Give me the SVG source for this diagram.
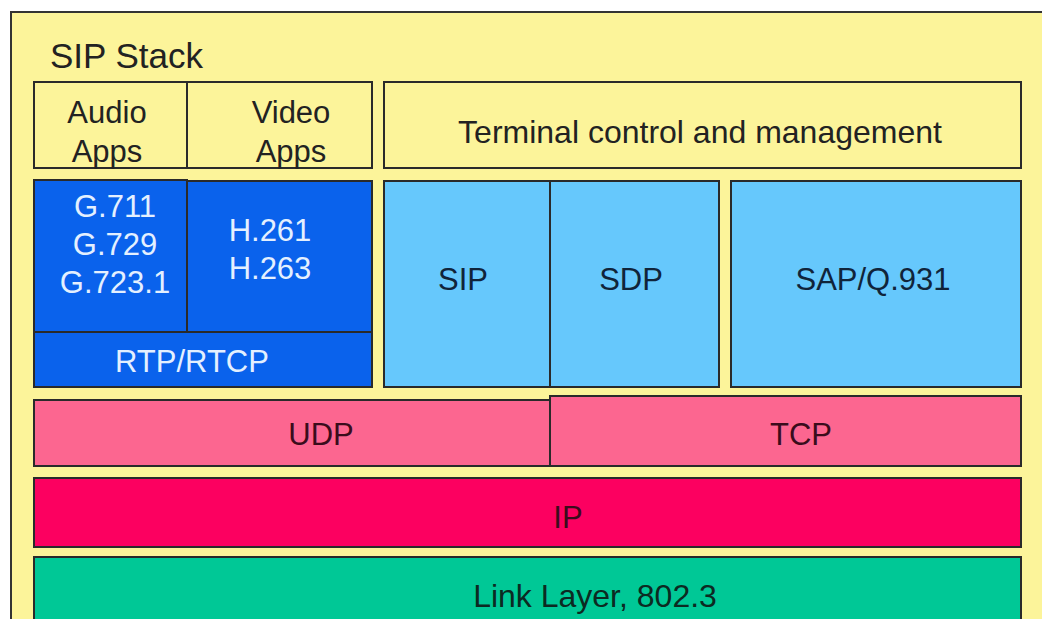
<svg xmlns="http://www.w3.org/2000/svg" width="1042" height="619" viewBox="0 0 1042 619">
<style>
.box{stroke:#2a2a2a;stroke-width:2}
.y{fill:#fcf49a}
.db{fill:#0a62ec}
.lb{fill:#66c8fc}
.pk{fill:#fc6690}
.ip{fill:#fc0060}
.gr{fill:#00c896}
text{font-family:"Liberation Sans",Arial,sans-serif;font-size:31px;text-anchor:middle}
.dk{fill:#222}
.wt{fill:#e4f0ff}
.nv{fill:#10243a}
.rd{fill:#3a0c1c}
.gk{fill:#0c2a22}
</style>
<rect x="0" y="0" width="1042" height="619" fill="#ffffff"/>
<g id="frame">
<rect x="11" y="12" width="1045" height="620" class="y" stroke="#333" stroke-width="2"/>
<text x="50" y="68" class="dk" style="text-anchor:start;font-size:35px">SIP Stack</text>
</g>
<g id="audio-apps">
<rect x="34" y="82" width="153" height="86" class="box y"/>
<text x="107" y="123" class="dk">Audio</text>
<text x="107" y="162" class="dk">Apps</text>
</g>
<g id="video-apps">
<rect x="187" y="82" width="185" height="86" class="box y"/>
<text x="291" y="123" class="dk">Video</text>
<text x="291" y="162" class="dk">Apps</text>
</g>
<g id="terminal">
<rect x="384" y="82" width="637" height="86" class="box y"/>
<text x="700" y="143" class="dk" style="font-size:32px">Terminal control and management</text>
</g>
<g id="audio-codecs">
<rect x="34" y="180" width="153" height="152" class="box db"/>
<text x="115" y="217" class="wt">G.711</text>
<text x="115" y="255" class="wt">G.729</text>
<text x="115" y="293" class="wt">G.723.1</text>
</g>
<g id="video-codecs">
<rect x="187" y="181" width="185" height="151" class="box db"/>
<text x="270" y="241" class="wt">H.261</text>
<text x="270" y="279" class="wt">H.263</text>
</g>
<g id="rtp">
<rect x="34" y="332" width="338" height="55" class="box db"/>
<text x="192" y="372" class="wt">RTP/RTCP</text>
</g>
<g id="sip">
<rect x="384" y="181" width="166" height="206" class="box lb"/>
<text x="463" y="290" class="nv">SIP</text>
</g>
<g id="sdp">
<rect x="550" y="181" width="169" height="206" class="box lb"/>
<text x="631" y="290" class="nv">SDP</text>
</g>
<g id="sap">
<rect x="731" y="181" width="290" height="206" class="box lb"/>
<text x="873" y="290" class="nv">SAP/Q.931</text>
</g>
<g id="udp">
<rect x="34" y="400" width="516" height="66" class="box pk"/>
<text x="321" y="445" class="rd">UDP</text>
</g>
<g id="tcp">
<rect x="550" y="396" width="471" height="70" class="box pk"/>
<text x="801" y="445" class="rd">TCP</text>
</g>
<g id="ip">
<rect x="34" y="478" width="987" height="69" class="box ip"/>
<text x="568" y="528" class="rd">IP</text>
</g>
<g id="link">
<rect x="34" y="557" width="987" height="80" class="box gr"/>
<text x="595" y="607" class="gk" style="font-size:32px">Link Layer, 802.3</text>
</g>
<g id="connectors"></g>
</svg>
